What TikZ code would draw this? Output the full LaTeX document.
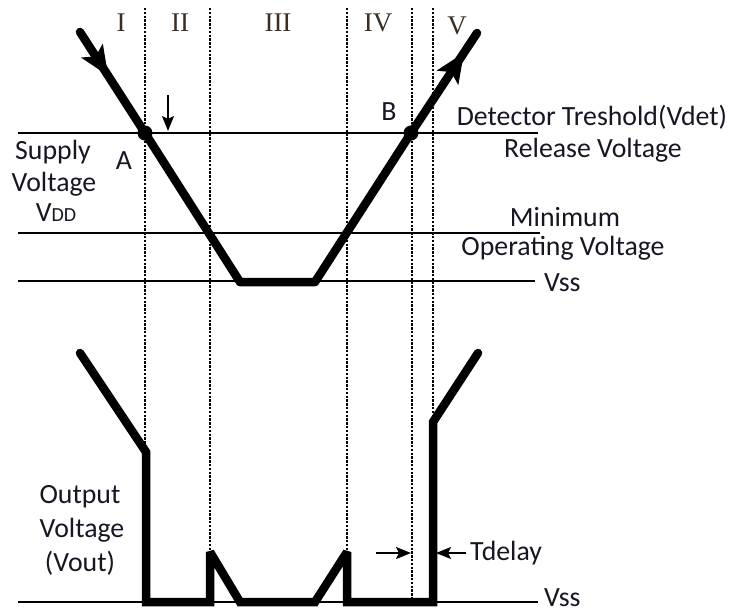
\documentclass[tikz,border=0pt]{standalone}
\usepackage{fontspec}
\setmainfont{Carlito}
\newfontfamily\romfont{Liberation Serif}
\usetikzlibrary{arrows.meta}
\definecolor{txtcol}{RGB}{22,22,36}
\definecolor{romcol}{RGB}{58,46,34}
\begin{document}
\begin{tikzpicture}[x=1pt,y=-1pt,
  thinline/.style={line width=1.9pt},
  wave/.style={line width=8.5pt,line cap=round,line join=round},
  guide/.style={line width=1.5pt,dash pattern=on 2.4pt off 1.4pt},
  lbl/.style={font=\fontsize{27.8}{31}\selectfont,text=txtcol,inner sep=0pt},
  rom/.style={font=\romfont\fontsize{27}{30}\selectfont,text=romcol,inner sep=0pt},
  headfill/.style={fill=black,line join=miter}
]
\useasboundingbox (0,0) rectangle (730,614);
% guide lines
\foreach \n/\x/\yb in {g1/145/452,g2/210/552,g3/347/552,g4/412/602,g5/433/422}{
  \coordinate (\n t) at (\x,8);
  \coordinate (\n b) at (\x,\yb);
  \draw[guide] (\n t) -- (\n b);
}
% horizontal levels
\coordinate (h1a) at (18,133); \coordinate (h1b) at (538,133);
\coordinate (h2a) at (18,233); \coordinate (h2b) at (540,233);
\coordinate (h3a) at (18,281); \coordinate (h3b) at (535,281);
\coordinate (h4a) at (18,602); \coordinate (h4b) at (538,602);
\draw[thinline] (h1a) -- (h1b);
\draw[thinline] (h2a) -- (h2b);
\draw[thinline] (h3a) -- (h3b);
\draw[thinline] (h4a) -- (h4b);
% supply waveform
\coordinate (t0) at (80,32);
\coordinate (A) at (145,133);
\coordinate (t1) at (240,282);
\coordinate (t2) at (315,282);
\coordinate (B) at (411,133);
\coordinate (t3) at (477,33);
\draw[wave] (t0) -- (A) -- (t1) -- (t2) -- (B) -- (t3);
% direction arrowheads on the supply curve
\fill[headfill] (108.1,75.7) -- (81.0,57.5) -- (95.7,56.4) -- (102.8,43.5) -- cycle;
\fill[headfill] (463.9,52.8) -- (458.3,85.1) -- (451.2,72.0) -- (436.5,70.7) -- cycle;
\fill (A) circle (7.5);
\fill (B) circle (7.5);
% output waveform
\coordinate (o0) at (80,353);
\coordinate (o1) at (146,452);
\coordinate (o2) at (146,602);
\coordinate (o3) at (210,602);
\coordinate (o4) at (210,552);
\coordinate (o5) at (240,602);
\coordinate (o6) at (315,602);
\coordinate (o7) at (347,552);
\coordinate (o8) at (347,602);
\coordinate (o9) at (433,602);
\coordinate (o10) at (433,422);
\coordinate (o11) at (478,353);
\draw[wave,line join=miter,miter limit=2] (o0) -- (o1) -- (o2) -- (o3) -- (o4) -- (o5) -- (o6) -- (o7) -- (o8) -- (o9) -- (o10) -- (o11);
% small down arrow
\coordinate (da1) at (168,95);
\coordinate (da2) at (168,131);
\draw[thinline,-{Stealth[length=15pt,width=12pt,inset=3pt]}] (da1) -- (da2);
% Tdelay arrows
\coordinate (td1) at (376,553);
\coordinate (td2) at (411,553);
\coordinate (td3) at (466,553);
\coordinate (td4) at (436,553);
\draw[thinline,-{Stealth[length=15pt,width=12pt,inset=3pt]}] (td1) -- (td2);
\draw[thinline,-{Stealth[length=15pt,width=12pt,inset=3pt]}] (td3) -- (td4);
% labels
\node[rom] (r1) at (121,23) {I};
\node[rom] (r2) at (180,23) {II};
\node[rom] (r3) at (278,23) {III};
\node[rom] (r4) at (378,23) {IV};
\node[rom] (r5) at (457,26) {V};
\node[lbl] (lA) at (124,161) {A};
\node[lbl] (lB) at (389,112) {B};
\node[lbl] (s1) at (53,152) {Supply};
\node[lbl] (s2) at (54,184) {Voltage};
\node[lbl] (s3) at (56,213) {V{\fontsize{20}{22}\selectfont DD}};
\node[lbl] (d1) at (592,117) {Detector Treshold(Vdet)};
\node[lbl] (d2) at (593,150) {Release Voltage};
\node[lbl] (m1) at (565,217) {Minimum};
\node[lbl] (m2) at (563,248) {Operating Voltage};
\node[lbl,anchor=west] (v1) at (544,283) {Vss};
\node[lbl,anchor=west] (v2) at (544,598) {Vss};
\node[lbl] (u1) at (80,497) {Output};
\node[lbl] (u2) at (82,530) {Voltage};
\node[lbl] (u3) at (80,563) {(Vout)};
\node[lbl,anchor=west] (tdl) at (470,553) {Tdelay};
\end{tikzpicture}
\end{document}
